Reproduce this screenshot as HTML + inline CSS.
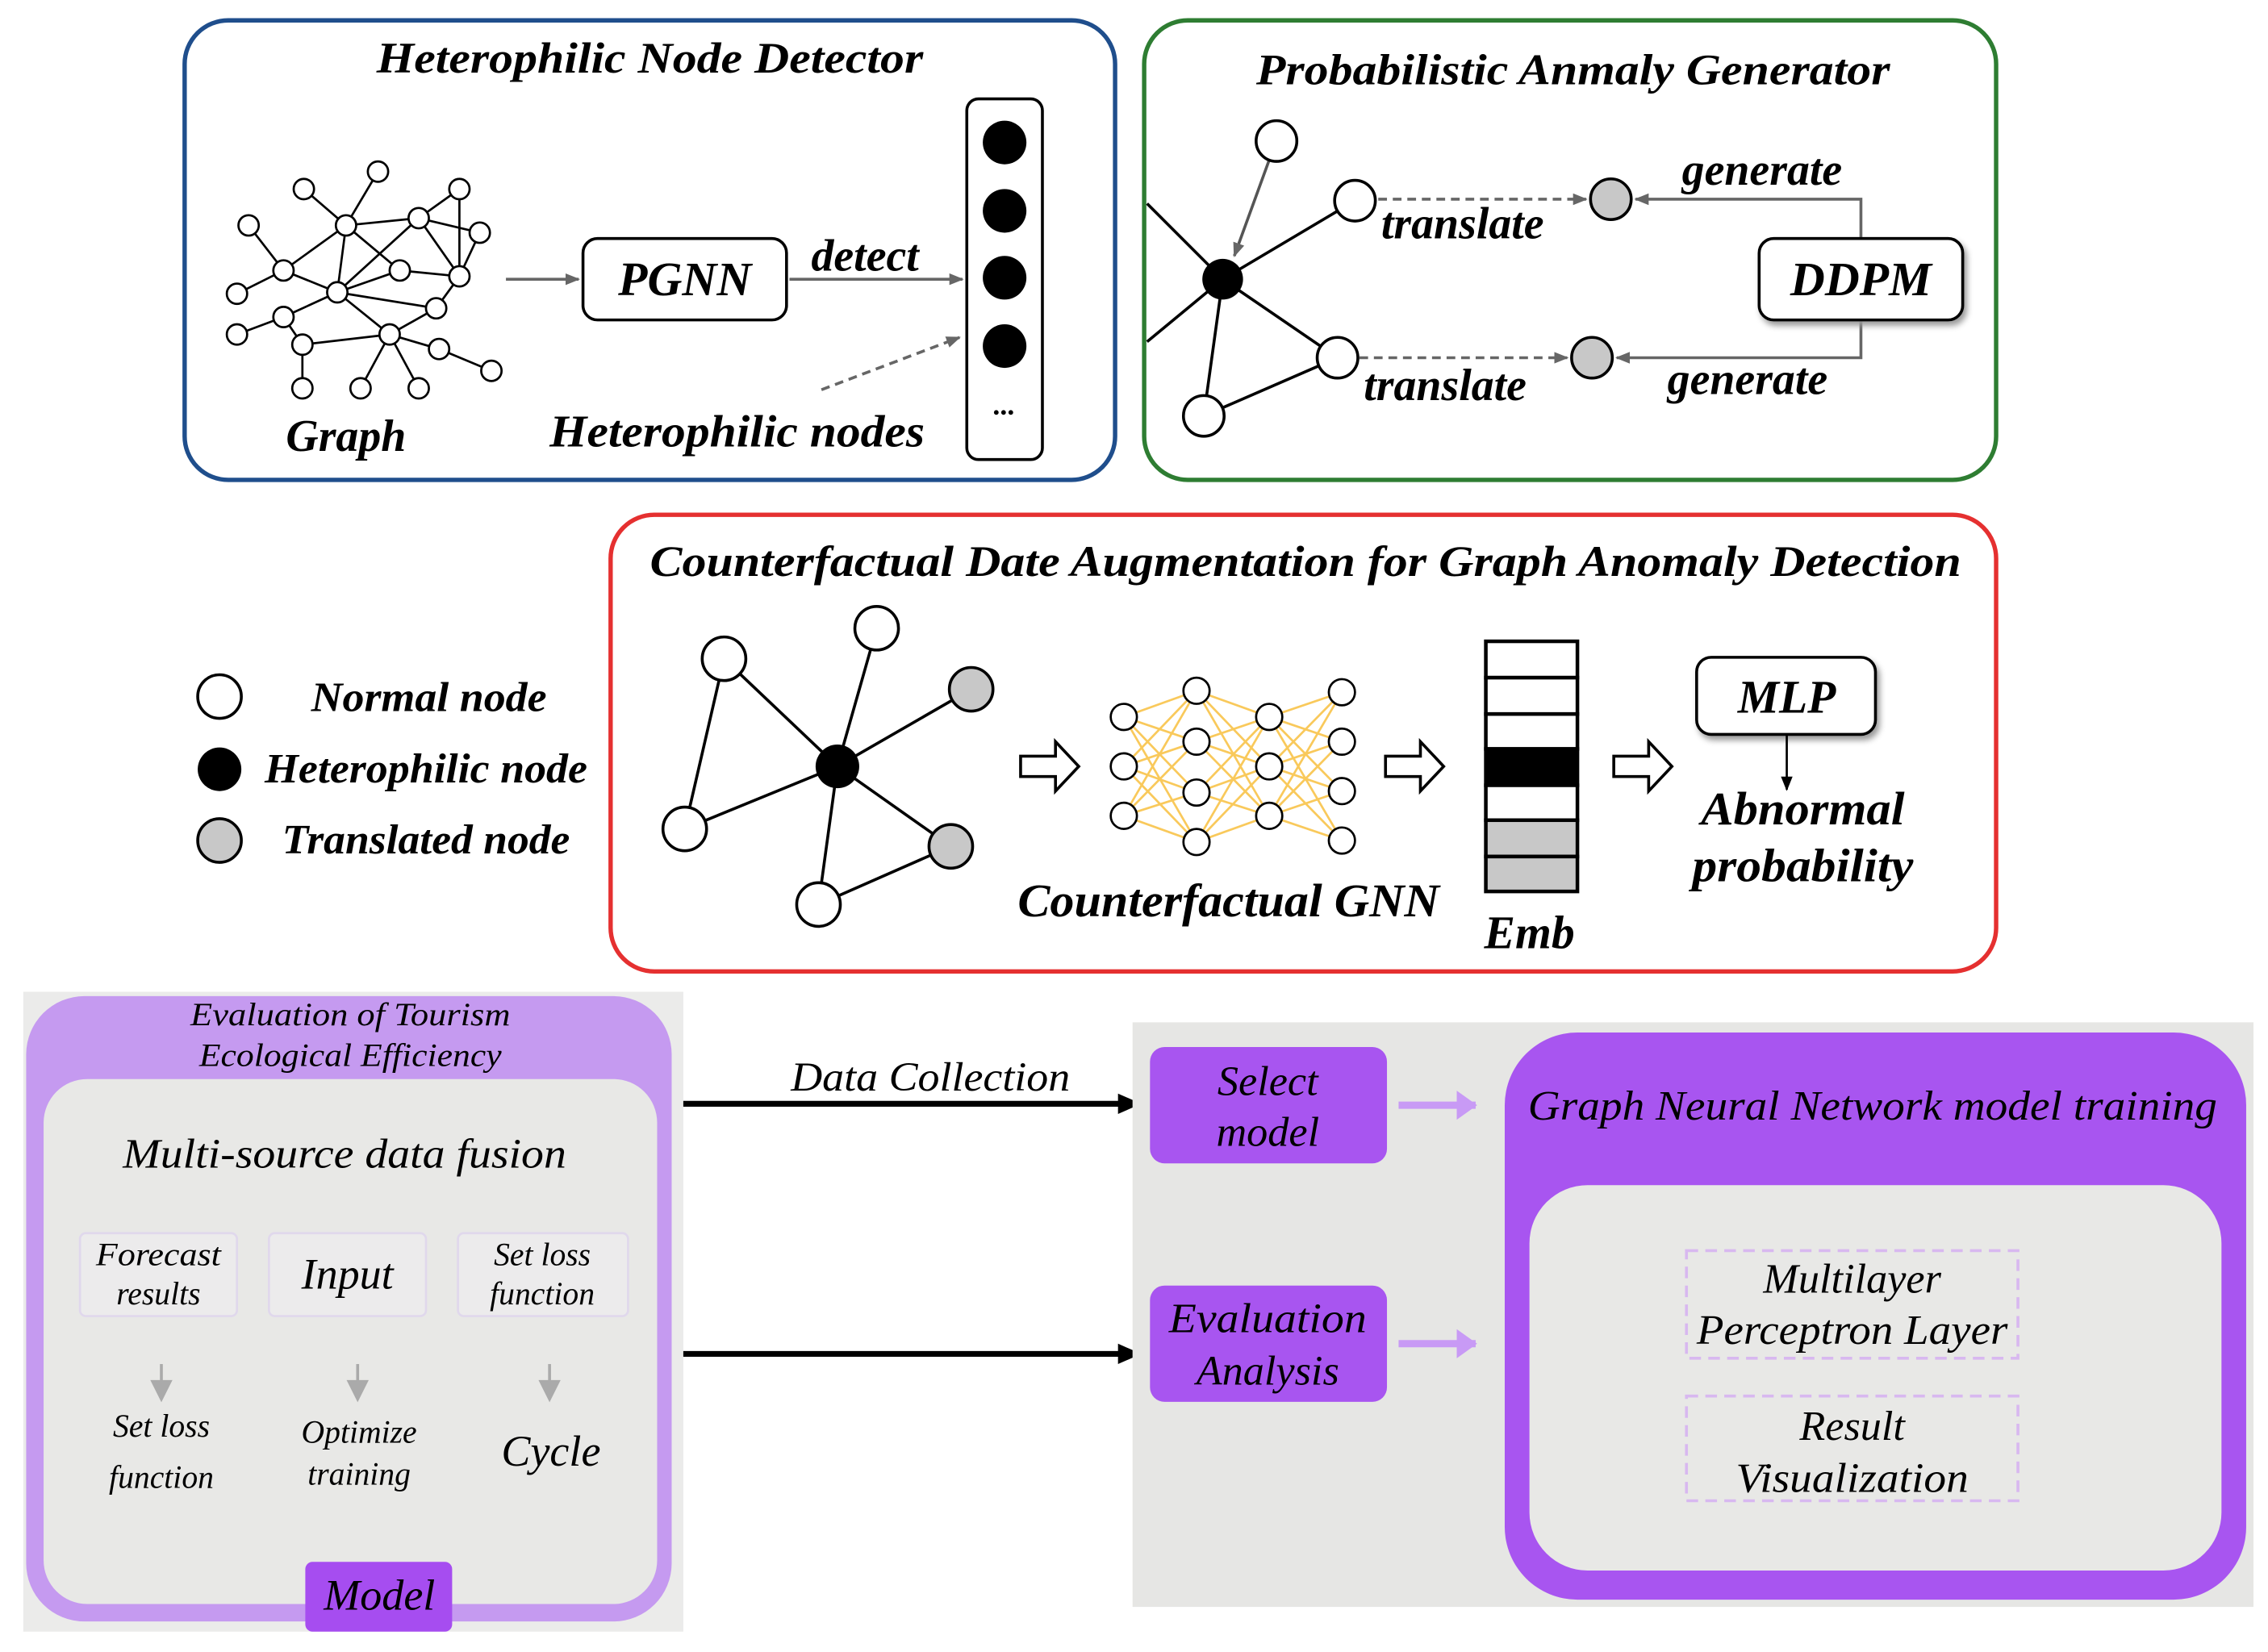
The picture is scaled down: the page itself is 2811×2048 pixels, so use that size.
<!DOCTYPE html>
<html><head><meta charset="utf-8"><style>
html,body{margin:0;padding:0;background:#fff;}
svg{display:block;}
text{font-family:"Liberation Serif",serif;font-style:italic;font-weight:bold;fill:#000;}
.b text{font-weight:normal;}
</style></head><body>
<svg width="2811" height="2048" viewBox="0 0 1560 1136" preserveAspectRatio="none" xmlns="http://www.w3.org/2000/svg">
<defs>
<marker id="ag" markerWidth="10" markerHeight="10" refX="9" refY="5" orient="auto" markerUnits="userSpaceOnUse"><path d="M0,1 L10,5 L0,9 z" fill="#666"/></marker>
<marker id="ak" markerWidth="10" markerHeight="10" refX="9" refY="5" orient="auto" markerUnits="userSpaceOnUse"><path d="M0,1 L10,5 L0,9 z" fill="#000"/></marker>
<marker id="abig" markerWidth="16" markerHeight="16" refX="15" refY="8" orient="auto" markerUnits="userSpaceOnUse"><path d="M0,1 L16,8 L0,15 z" fill="#000"/></marker>
<marker id="ap" markerWidth="14" markerHeight="20" refX="13" refY="10" orient="auto" markerUnits="userSpaceOnUse"><path d="M0,0 L14,10 L0,20 z" fill="#c89af5"/></marker>
</defs>

<rect x="127" y="14" width="640" height="316" rx="30" fill="#fff" stroke="#1f4e8c" stroke-width="3"/>
<text x="447" y="50" font-size="30" text-anchor="middle" textLength="376" lengthAdjust="spacingAndGlyphs">Heterophilic Node Detector</text>
<g stroke="#000" stroke-width="1.5">
<line x1="209" y1="130" x2="238" y2="155"/><line x1="260" y1="118" x2="238" y2="155"/><line x1="316" y1="130" x2="288" y2="150"/>
<line x1="171" y1="155" x2="195" y2="186"/><line x1="238" y1="155" x2="288" y2="150"/><line x1="238" y1="155" x2="195" y2="186"/>
<line x1="238" y1="155" x2="275" y2="186"/><line x1="288" y1="150" x2="330" y2="160"/><line x1="288" y1="150" x2="316" y2="190"/>
<line x1="288" y1="150" x2="232" y2="201"/><line x1="238" y1="155" x2="232" y2="201"/><line x1="195" y1="186" x2="232" y2="201"/>
<line x1="275" y1="186" x2="316" y2="190"/><line x1="275" y1="186" x2="232" y2="201"/><line x1="163" y1="202" x2="195" y2="186"/>
<line x1="232" y1="201" x2="195" y2="218"/><line x1="232" y1="201" x2="300" y2="212"/><line x1="232" y1="201" x2="268" y2="230"/>
<line x1="195" y1="218" x2="163" y2="230"/><line x1="195" y1="218" x2="208" y2="237"/><line x1="316" y1="190" x2="300" y2="212"/>
<line x1="208" y1="237" x2="268" y2="230"/><line x1="268" y1="230" x2="302" y2="240"/><line x1="302" y1="240" x2="338" y2="255"/>
<line x1="208" y1="237" x2="208" y2="267"/><line x1="268" y1="230" x2="248" y2="267"/><line x1="268" y1="230" x2="288" y2="267"/>
<line x1="316" y1="190" x2="330" y2="160"/><line x1="300" y1="212" x2="268" y2="230"/><line x1="316" y1="130" x2="316" y2="190"/>
</g>
<g fill="#fff" stroke="#000" stroke-width="1.5">
<circle cx="209" cy="130" r="7"/><circle cx="260" cy="118" r="7"/><circle cx="316" cy="130" r="7"/><circle cx="171" cy="155" r="7"/>
<circle cx="238" cy="155" r="7"/><circle cx="288" cy="150" r="7"/><circle cx="330" cy="160" r="7"/><circle cx="195" cy="186" r="7"/>
<circle cx="275" cy="186" r="7"/><circle cx="316" cy="190" r="7"/><circle cx="163" cy="202" r="7"/><circle cx="232" cy="201" r="7"/>
<circle cx="195" cy="218" r="7"/><circle cx="300" cy="212" r="7"/><circle cx="163" cy="230" r="7"/><circle cx="208" cy="237" r="7"/>
<circle cx="268" cy="230" r="7"/><circle cx="302" cy="240" r="7"/><circle cx="338" cy="255" r="7"/><circle cx="208" cy="267" r="7"/>
<circle cx="248" cy="267" r="7"/><circle cx="288" cy="267" r="7"/>
</g>
<text x="238" y="310" font-size="31" text-anchor="middle">Graph</text>
<line x1="348" y1="192" x2="398" y2="192" stroke="#666" stroke-width="2" marker-end="url(#ag)"/>
<rect x="401" y="164" width="140" height="56" rx="10" fill="#fff" stroke="#000" stroke-width="2"/>
<text x="471" y="203" font-size="33" text-anchor="middle">PGNN</text>
<text x="595" y="186" font-size="31" text-anchor="middle">detect</text>
<line x1="543" y1="192" x2="662" y2="192" stroke="#666" stroke-width="2" marker-end="url(#ag)"/>
<line x1="565" y1="268" x2="660" y2="232" stroke="#666" stroke-width="2" stroke-dasharray="6,4" marker-end="url(#ag)"/>
<text x="507" y="307" font-size="31" text-anchor="middle" textLength="258" lengthAdjust="spacingAndGlyphs">Heterophilic nodes</text>
<rect x="665" y="68" width="52" height="248" rx="8" fill="#fff" stroke="#000" stroke-width="2"/>
<circle cx="691" cy="98" r="15"/><circle cx="691" cy="145" r="15"/><circle cx="691" cy="191" r="15"/><circle cx="691" cy="238" r="15"/>
<text x="691" y="285" font-size="20" text-anchor="middle" font-style="normal" font-weight="normal">...</text>

<rect x="787" y="14" width="586" height="316" rx="30" fill="#fff" stroke="#2e7d32" stroke-width="3"/>
<text x="1082" y="58" font-size="30" text-anchor="middle" textLength="436" lengthAdjust="spacingAndGlyphs">Probabilistic Anmaly Generator</text>
<g stroke="#000" stroke-width="2">
<line x1="789" y1="140" x2="841" y2="192"/><line x1="789" y1="235" x2="841" y2="192"/>
<line x1="932" y1="138" x2="841" y2="192"/><line x1="920" y1="246" x2="841" y2="192"/><line x1="828" y1="286" x2="841" y2="192"/>
<line x1="920" y1="246" x2="828" y2="286"/>
</g>
<line x1="873" y1="110" x2="849" y2="176" stroke="#555" stroke-width="2" marker-end="url(#ag)"/>
<circle cx="841" cy="192" r="14"/>
<g fill="#fff" stroke="#000" stroke-width="2">
<circle cx="878" cy="97" r="14"/><circle cx="932" cy="138" r="14"/><circle cx="920" cy="246" r="14"/><circle cx="828" cy="286" r="14"/>
</g>
<g fill="#c8c8c8" stroke="#000" stroke-width="2"><circle cx="1108" cy="137" r="14"/><circle cx="1095" cy="246" r="14"/></g>
<line x1="948" y1="137" x2="1091" y2="137" stroke="#666" stroke-width="2" stroke-dasharray="6,4" marker-end="url(#ag)"/>
<line x1="935" y1="246" x2="1078" y2="246" stroke="#666" stroke-width="2" stroke-dasharray="6,4" marker-end="url(#ag)"/>
<polyline points="1280,164 1280,137 1125,137" fill="none" stroke="#666" stroke-width="2" marker-end="url(#ag)"/>
<polyline points="1280,220 1280,246 1112,246" fill="none" stroke="#666" stroke-width="2" marker-end="url(#ag)"/>
<rect x="1210" y="164" width="140" height="56" rx="10" fill="#fff" stroke="#000" stroke-width="2" style="filter:drop-shadow(2px 3px 2px #999)"/>
<text x="1280" y="203" font-size="33" text-anchor="middle">DDPM</text>
<text x="1006" y="164" font-size="31" text-anchor="middle">translate</text>
<text x="994" y="275" font-size="31" text-anchor="middle">translate</text>
<text x="1212" y="127" font-size="31" text-anchor="middle">generate</text>
<text x="1202" y="271" font-size="31" text-anchor="middle">generate</text>

<circle cx="151" cy="479" r="15" fill="#fff" stroke="#000" stroke-width="2"/>
<circle cx="151" cy="529" r="15"/>
<circle cx="151" cy="578" r="15" fill="#c8c8c8" stroke="#000" stroke-width="2"/>
<text x="295" y="489" font-size="29" text-anchor="middle" textLength="162" lengthAdjust="spacingAndGlyphs">Normal node</text>
<text x="293" y="538" font-size="29" text-anchor="middle" textLength="222" lengthAdjust="spacingAndGlyphs">Heterophilic node</text>
<text x="293" y="587" font-size="29" text-anchor="middle" textLength="198" lengthAdjust="spacingAndGlyphs">Translated node</text>

<rect x="420" y="354" width="953" height="314" rx="30" fill="#fff" stroke="#e53030" stroke-width="3"/>
<text x="898" y="396" font-size="30" text-anchor="middle" textLength="902" lengthAdjust="spacingAndGlyphs">Counterfactual Date Augmentation for Graph Anomaly Detection</text>
<g stroke="#000" stroke-width="2">
<line x1="498" y1="453" x2="471" y2="570"/><line x1="498" y1="453" x2="576" y2="527"/><line x1="603" y1="432" x2="576" y2="527"/>
<line x1="576" y1="527" x2="668" y2="474"/><line x1="576" y1="527" x2="471" y2="570"/><line x1="576" y1="527" x2="563" y2="622"/>
<line x1="576" y1="527" x2="654" y2="582"/><line x1="563" y1="622" x2="654" y2="582"/>
</g>
<g fill="#fff" stroke="#000" stroke-width="2">
<circle cx="498" cy="453" r="15"/><circle cx="603" cy="432" r="15"/><circle cx="471" cy="570" r="15"/><circle cx="563" cy="622" r="15"/>
</g>
<g fill="#c8c8c8" stroke="#000" stroke-width="2"><circle cx="668" cy="474" r="15"/><circle cx="654" cy="582" r="15"/></g>
<circle cx="576" cy="527" r="15"/>
<g fill="#fff" stroke="#000" stroke-width="2">
<path d="M702,520 h24 v-10 l16,17 l-16,17 v-10 h-24 z"/>
<path d="M953,520 h24 v-10 l16,17 l-16,17 v-10 h-24 z"/>
<path d="M1110,520 h24 v-10 l16,17 l-16,17 v-10 h-24 z"/>
</g>
<g stroke="#f9c95b" stroke-width="1.5">
<path d="M773,493L823,475M773,493L823,510M773,493L823,545M773,493L823,579M773,527L823,475M773,527L823,510M773,527L823,545M773,527L823,579M773,561L823,475M773,561L823,510M773,561L823,545M773,561L823,579"/>
<path d="M823,475L873,493M823,475L873,527M823,475L873,561M823,510L873,493M823,510L873,527M823,510L873,561M823,545L873,493M823,545L873,527M823,545L873,561M823,579L873,493M823,579L873,527M823,579L873,561"/>
<path d="M873,493L923,476M873,493L923,510M873,493L923,544M873,493L923,578M873,527L923,476M873,527L923,510M873,527L923,544M873,527L923,578M873,561L923,476M873,561L923,510M873,561L923,544M873,561L923,578"/>
</g>
<g fill="#fff" stroke="#000" stroke-width="1.5">
<circle cx="773" cy="493" r="9"/><circle cx="773" cy="527" r="9"/><circle cx="773" cy="561" r="9"/>
<circle cx="823" cy="475" r="9"/><circle cx="823" cy="510" r="9"/><circle cx="823" cy="545" r="9"/><circle cx="823" cy="579" r="9"/>
<circle cx="873" cy="493" r="9"/><circle cx="873" cy="527" r="9"/><circle cx="873" cy="561" r="9"/>
<circle cx="923" cy="476" r="9"/><circle cx="923" cy="510" r="9"/><circle cx="923" cy="544" r="9"/><circle cx="923" cy="578" r="9"/>
</g>
<text x="845" y="630" font-size="32" text-anchor="middle" textLength="290" lengthAdjust="spacingAndGlyphs">Counterfactual GNN</text>
<g stroke="#000" stroke-width="2.5">
<rect x="1022" y="441" width="63" height="25" fill="#fff"/><rect x="1022" y="466" width="63" height="25" fill="#fff"/>
<rect x="1022" y="491" width="63" height="24" fill="#fff"/><rect x="1022" y="515" width="63" height="25" fill="#000"/>
<rect x="1022" y="540" width="63" height="24" fill="#fff"/><rect x="1022" y="564" width="63" height="25" fill="#c8c8c8"/>
<rect x="1022" y="589" width="63" height="24" fill="#c8c8c8"/>
</g>
<text x="1052" y="652" font-size="32" text-anchor="middle">Emb</text>
<rect x="1167" y="452" width="123" height="53" rx="10" fill="#fff" stroke="#000" stroke-width="2" style="filter:drop-shadow(2px 3px 2px #999)"/>
<text x="1229" y="490" font-size="32" text-anchor="middle">MLP</text>
<line x1="1229" y1="505" x2="1229" y2="543" stroke="#000" stroke-width="1.5" marker-end="url(#ak)"/>
<text x="1240" y="567" font-size="32" text-anchor="middle" textLength="140" lengthAdjust="spacingAndGlyphs">Abnormal</text>
<text x="1240" y="606" font-size="32" text-anchor="middle" textLength="152" lengthAdjust="spacingAndGlyphs">probability</text>

<g class="b">
<rect x="16" y="682" width="454" height="440" fill="#ebebea"/>
<rect x="18" y="685" width="444" height="430" rx="40" fill="#c59af0"/>
<rect x="30" y="742" width="422" height="361" rx="30" fill="#e8e8e6"/>
<text x="241" y="705" font-size="22" text-anchor="middle" textLength="220" lengthAdjust="spacingAndGlyphs">Evaluation of Tourism</text>
<text x="241" y="733" font-size="22" text-anchor="middle" textLength="208" lengthAdjust="spacingAndGlyphs">Ecological Efficiency</text>
<text x="237" y="803" font-size="29" text-anchor="middle" textLength="305" lengthAdjust="spacingAndGlyphs">Multi-source data fusion</text>
<g fill="#ecebec" stroke="#e0d8ec" stroke-width="1.5">
<rect x="55" y="848" width="108" height="57" rx="4"/><rect x="185" y="848" width="108" height="57" rx="4"/><rect x="315" y="848" width="117" height="57" rx="4"/>
</g>
<text x="109" y="870" font-size="22" text-anchor="middle" textLength="86" lengthAdjust="spacingAndGlyphs">Forecast</text>
<text x="109" y="897" font-size="22" text-anchor="middle">results</text>
<text x="239" y="886" font-size="30" text-anchor="middle">Input</text>
<text x="373" y="870" font-size="22" text-anchor="middle">Set loss</text>
<text x="373" y="897" font-size="22" text-anchor="middle">function</text>
<g stroke="#aaa" stroke-width="2" fill="#aaa">
<line x1="111" y1="938" x2="111" y2="954"/><path d="M105,950 L117,950 L111,962 z"/>
<line x1="246" y1="938" x2="246" y2="954"/><path d="M240,950 L252,950 L246,962 z"/>
<line x1="378" y1="938" x2="378" y2="954"/><path d="M372,950 L384,950 L378,962 z"/>
</g>
<text x="111" y="988" font-size="22" text-anchor="middle">Set loss</text>
<text x="111" y="1023" font-size="22" text-anchor="middle">function</text>
<text x="247" y="992" font-size="22" text-anchor="middle">Optimize</text>
<text x="247" y="1021" font-size="22" text-anchor="middle">training</text>
<text x="379" y="1008" font-size="30" text-anchor="middle">Cycle</text>
<rect x="210" y="1074" width="101" height="48" rx="5" fill="#a64df0"/>
<text x="261" y="1107" font-size="30" text-anchor="middle">Model</text>

<line x1="470" y1="759" x2="784" y2="759" stroke="#000" stroke-width="4" marker-end="url(#abig)"/>
<line x1="470" y1="931" x2="784" y2="931" stroke="#000" stroke-width="4" marker-end="url(#abig)"/>
<text x="640" y="750" font-size="28" text-anchor="middle" textLength="192" lengthAdjust="spacingAndGlyphs">Data Collection</text>

<rect x="779" y="703" width="771" height="402" fill="#e6e6e4"/>
<rect x="791" y="720" width="163" height="80" rx="10" fill="#a855f0"/>
<rect x="791" y="884" width="163" height="80" rx="10" fill="#a855f0"/>
<text x="872" y="753" font-size="29" text-anchor="middle">Select</text>
<text x="872" y="788" font-size="29" text-anchor="middle">model</text>
<text x="872" y="916" font-size="29" text-anchor="middle" textLength="136" lengthAdjust="spacingAndGlyphs">Evaluation</text>
<text x="872" y="952" font-size="29" text-anchor="middle">Analysis</text>
<line x1="962" y1="760" x2="1015" y2="760" stroke="#c89af5" stroke-width="5" marker-end="url(#ap)"/>
<line x1="962" y1="924" x2="1015" y2="924" stroke="#c89af5" stroke-width="5" marker-end="url(#ap)"/>
<rect x="1035" y="710" width="510" height="390" rx="50" fill="#a855f0"/>
<rect x="1052" y="815" width="476" height="265" rx="40" fill="#e8e8e6"/>
<text x="1288" y="770" font-size="29" text-anchor="middle" textLength="474" lengthAdjust="spacingAndGlyphs">Graph Neural Network model training</text>
<g fill="none" stroke="#d8b8f0" stroke-width="2" stroke-dasharray="8,5">
<rect x="1160" y="860" width="228" height="74"/><rect x="1160" y="960" width="228" height="72"/>
</g>
<text x="1274" y="889" font-size="29" text-anchor="middle">Multilayer</text>
<text x="1274" y="924" font-size="29" text-anchor="middle" textLength="214" lengthAdjust="spacingAndGlyphs">Perceptron Layer</text>
<text x="1274" y="990" font-size="29" text-anchor="middle">Result</text>
<text x="1274" y="1026" font-size="29" text-anchor="middle" textLength="160" lengthAdjust="spacingAndGlyphs">Visualization</text>
</g>
</svg>
</body></html>
